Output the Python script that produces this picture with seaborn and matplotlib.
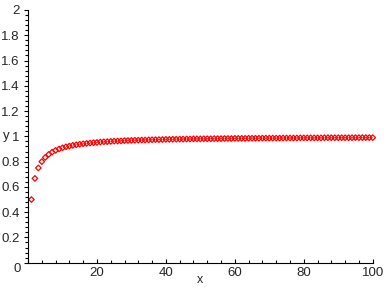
import matplotlib
matplotlib.use("Agg")
import matplotlib.pyplot as plt
import seaborn as sns
import pandas as pd
from matplotlib.ticker import MultipleLocator

n_vals = list(range(1, 101))
y_vals = [0.5, 0.667, 0.75, 0.8, 0.833, 0.857, 0.875, 0.889, 0.9, 0.909,
          0.917, 0.923, 0.929, 0.933, 0.938, 0.941, 0.944, 0.947, 0.95, 0.952,
          0.955, 0.957, 0.958, 0.96, 0.962, 0.963, 0.964, 0.966, 0.967, 0.968,
          0.969, 0.970, 0.971, 0.971, 0.972, 0.973, 0.974, 0.974, 0.975, 0.976,
          0.976, 0.977, 0.977, 0.978, 0.978, 0.979, 0.979, 0.980, 0.980, 0.980,
          0.981, 0.981, 0.981, 0.982, 0.982, 0.982, 0.983, 0.983, 0.983, 0.984,
          0.984, 0.984, 0.984, 0.985, 0.985, 0.985, 0.985, 0.986, 0.986, 0.986,
          0.986, 0.986, 0.986, 0.987, 0.987, 0.987, 0.987, 0.987, 0.988, 0.988,
          0.988, 0.988, 0.988, 0.988, 0.988, 0.989, 0.989, 0.989, 0.989, 0.989,
          0.989, 0.989, 0.989, 0.989, 0.990, 0.990, 0.990, 0.990, 0.990, 0.990]
x_ticks = [20, 40, 60, 80, 100]
y_ticks = [0, 0.2, 0.4, 0.6, 0.8, 1, 1.2, 1.4, 1.6, 1.8, 2]
y_tick_labels = ["", "0.2", "0.4", "0.6", "0.8", "1", "1.2", "1.4", "1.6", "1.8", "2"]

sns.set_style("white")
plt.rcParams['font.family'] = ['Liberation Sans', 'DejaVu Sans']

df = pd.DataFrame({"x": n_vals, "y": y_vals})

W, H = 388, 288
L, R, T, B = 28, 372.7, 10, 262.7
fig = plt.figure(figsize=(3.88, 2.88), dpi=100)
ax = fig.add_axes([L / W, (H - B) / H, (R - L) / W, (B - T) / H])
sns.scatterplot(data=df, x="x", y="y", ax=ax, marker="D", s=8,
                facecolor="none", edgecolor="#ff0000", linewidth=0.9,
                clip_on=False)

ax.set_xlim(0, 100)
ax.set_ylim(0, 2)
for s in ["top", "right"]:
    ax.spines[s].set_visible(False)
for s in ["left", "bottom"]:
    ax.spines[s].set_color("black")
    ax.spines[s].set_linewidth(0.8)

ax.set_xticks(x_ticks)
ax.set_yticks(y_ticks)
ax.set_yticklabels(y_tick_labels)
ax.xaxis.set_minor_locator(MultipleLocator(4))
ax.yaxis.set_minor_locator(MultipleLocator(0.04))
ax.tick_params(axis="x", which="both", direction="in", bottom=True, labelsize=9.5, pad=3, color="black")
ax.tick_params(axis="x", which="major", length=3, width=0.8)
ax.tick_params(axis="x", which="minor", length=2, width=0.8)
ax.tick_params(axis="y", which="both", direction="out", left=True, labelsize=9.5, pad=3, color="black")
ax.tick_params(axis="y", which="major", length=3, width=0.8)
ax.tick_params(axis="y", which="minor", length=2, width=0.8)

ax.set_xlabel("")
ax.set_ylabel("")
fig.text(16.7 / W, 1 - 269 / H, "0", ha="center", va="center", fontsize=9.5)
fig.text(199.5 / W, 1 - 280 / H, "x", ha="center", va="center", fontsize=9)
fig.text(6.5 / W, 1 - 136 / H, "y", ha="center", va="center", fontsize=9.5)

fig.savefig("out.png", dpi=100)
